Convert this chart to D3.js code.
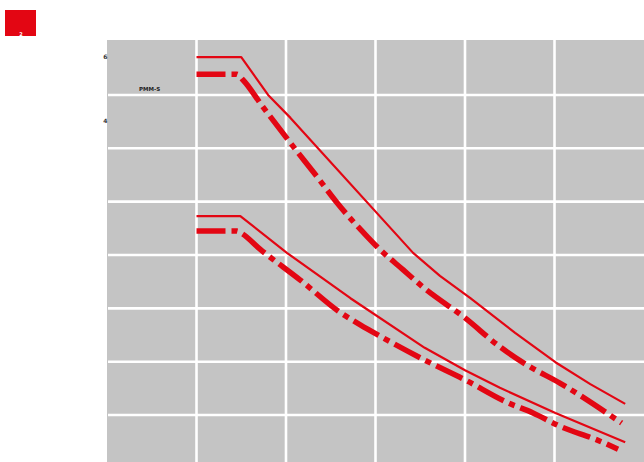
<!DOCTYPE html>
<html>
<head>
<meta charset="utf-8">
<script src="https://cdn.jsdelivr.net/npm/d3@7/dist/d3.min.js"></script>
<style>
html,body{margin:0;padding:0;background:#fff;}
svg{display:block;}
</style>
</head>
<body>
<svg id="chart" width="644" height="462"></svg>
<script>
// Grid positions (data units)
const gridX = [1, 2, 3, 4, 5];
const gridY = [1, 2, 3, 4, 5, 6, 7];

// Series (x in column units, y in row units)
const upperSolidX = [1.0, 1.5, 1.80, 2.05, 3.42, 3.72, 4.06, 4.56, 5.01, 5.40, 5.79];
const upperSolidY = [7.71, 7.71, 7.00, 6.57, 4.04, 3.61, 3.19, 2.54, 1.99, 1.58, 1.21];

const upperDashX = [1.0, 1.45, 1.52, 1.74, 2.05, 2.35, 2.57, 2.91, 3.02, 3.31, 3.53, 4.0, 4.39, 4.69, 5.06, 5.75];
const upperDashY = [7.39, 7.39, 7.28, 6.78, 6.10, 5.46, 4.98, 4.34, 4.15, 3.72, 3.40, 2.82, 2.28, 1.94, 1.60, 0.85];

const lowerSolidX = [1.0, 1.49, 2.01, 2.72, 3.55, 4.0, 4.39, 5.01, 5.79];
const lowerSolidY = [4.73, 4.73, 4.04, 3.19, 2.26, 1.84, 1.51, 1.04, 0.49];

const lowerDashX = [1.0, 1.45, 1.50, 1.71, 2.16, 2.60, 2.83, 3.05, 3.55, 4.0, 4.48, 4.76, 5.06, 5.48, 5.71];
const lowerDashY = [4.45, 4.45, 4.41, 4.11, 3.53, 2.93, 2.69, 2.48, 2.03, 1.66, 1.23, 1.04, 0.79, 0.53, 0.36];

// Labels
const axisLabels = ["6", "4"];
const axisLabelValues = [7.68, 6.48];
const legendLabel = "PMM-S";
const badgeLabel = "2";

const RED = "#e30613";
const svg = d3.select("#chart");

const x = d3.scaleLinear().domain([0, 6]).range([107, 644]);
const y = d3.scaleLinear().domain([0.12, 8.03]).range([462, 40]);

// plot background
svg.append("rect")
  .attr("x", x(0)).attr("y", y(8.03))
  .attr("width", x(6) - x(0)).attr("height", y(0.12) - y(8.03))
  .attr("fill", "#c4c4c4");

// grid
svg.append("g").selectAll("line").data(gridX).join("line")
  .attr("x1", d => x(d)).attr("x2", d => x(d))
  .attr("y1", y(8.03)).attr("y2", y(0.12))
  .attr("stroke", "#fff").attr("stroke-width", 2.6);
svg.append("g").selectAll("line").data(gridY).join("line")
  .attr("x1", x(0) + 1).attr("x2", x(6))
  .attr("y1", d => y(d)).attr("y2", d => y(d))
  .attr("stroke", "#fff").attr("stroke-width", 2.6);

const solidLine = d3.line().x(d => x(d[0])).y(d => y(d[1])).curve(d3.curveLinear);
const dashLine = d3.line().x(d => x(d[0])).y(d => y(d[1])).curve(d3.curveMonotoneX);
const zip = (a, b) => a.map((v, i) => [v, b[i]]);

function drawSolid(xs, ys) {
  svg.append("path").datum(zip(xs, ys))
    .attr("d", solidLine).attr("fill", "none")
    .attr("stroke", RED).attr("stroke-width", 2.2)
    .attr("stroke-linejoin", "round");
}
function drawDash(xs, ys) {
  svg.append("path").datum(zip(xs, ys))
    .attr("d", dashLine).attr("fill", "none")
    .attr("stroke", RED).attr("stroke-width", 5.5)
    .attr("stroke-dasharray", "29,6,6,6");
}
drawSolid(upperSolidX, upperSolidY);
drawDash(upperDashX, upperDashY);
drawSolid(lowerSolidX, lowerSolidY);
drawDash(lowerDashX, lowerDashY);

// small y labels
svg.append("g").selectAll("text").data(axisLabels).join("text")
  .attr("x", 107.5).attr("y", (d, i) => y(axisLabelValues[i]))
  .attr("text-anchor", "end")
  .attr("font-family", "DejaVu Sans, sans-serif")
  .attr("font-size", 6).attr("font-weight", "bold").attr("fill", "#333")
  .text(d => d);

// series label
svg.append("text")
  .attr("x", 139).attr("y", 91)
  .attr("font-family", "DejaVu Sans, sans-serif")
  .attr("font-size", 5.5).attr("font-weight", "bold").attr("fill", "#222")
  .text(legendLabel);

// red badge
svg.append("rect").attr("x", 5).attr("y", 10).attr("width", 31).attr("height", 26).attr("fill", RED);
svg.append("text")
  .attr("x", 21).attr("y", 36)
  .attr("text-anchor", "middle")
  .attr("font-family", "DejaVu Sans, sans-serif")
  .attr("font-size", 5).attr("font-weight", "bold").attr("fill", "#fff")
  .text(badgeLabel);
</script>
</body>
</html>
